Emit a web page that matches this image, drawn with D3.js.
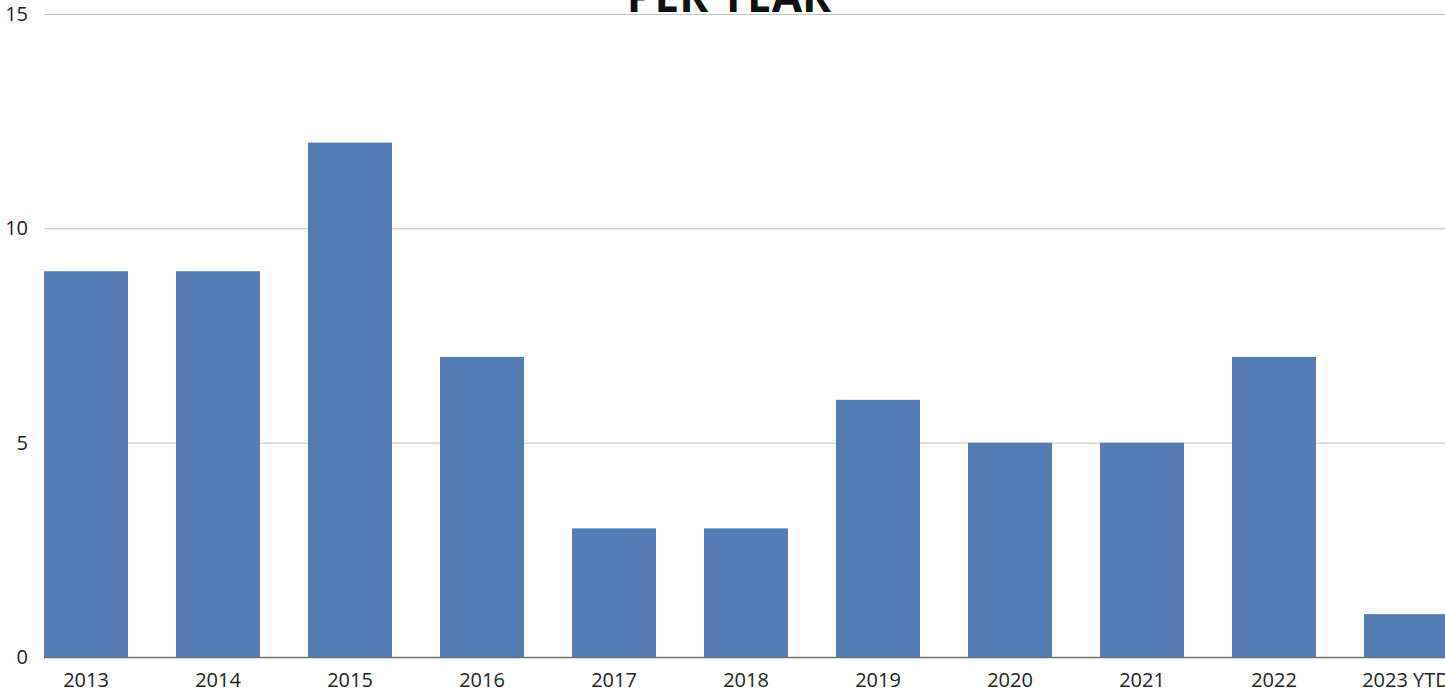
<!DOCTYPE html>
<html>
<head>
<meta charset="UTF-8">
<title>Per year</title>
<script src="https://d3js.org/d3.v7.min.js"></script>
<style>
  body { margin: 0; background: #fff; }
  svg { display: block; }
</style>
</head>
<body>
<svg id="chart" width="1445" height="694"></svg>
<script>
const years = ["2013", "2014", "2015", "2016", "2017", "2018", "2019", "2020", "2021", "2022", "2023 YTD"];
const counts = [9, 9, 12, 7, 3, 3, 6, 5, 5, 7, 1];
const yTicks = [0, 5, 10, 15];

const width = 1445, height = 694;
const svg = d3.select("#chart");

// band layout: 132px per category, 84px bars
const x = d3.scaleBand()
    .domain(years)
    .range([20, 20 + 132 * years.length])
    .paddingInner(48 / 132)
    .paddingOuter(24 / 132);

const y = d3.scaleLinear().domain([0, 15]).range([657, 14]);

// gridlines
svg.append("g")
    .selectAll("line")
    .data(yTicks.filter(d => d > 0))
    .enter().append("line")
    .attr("x1", 44).attr("x2", width)
    .attr("y1", d => y(d) + 0.5).attr("y2", d => y(d) + 0.5)
    .attr("stroke", "#bfbfbf")
    .attr("stroke-width", 1);

// bars
svg.append("g")
    .selectAll("rect")
    .data(years)
    .enter().append("rect")
    .attr("x", d => x(d))
    .attr("width", x.bandwidth())
    .attr("y", (d, i) => y(counts[i]))
    .attr("height", (d, i) => y(0) - y(counts[i]))
    .attr("fill", "#537db4");

// baseline
svg.append("line")
    .attr("x1", 44).attr("x2", width)
    .attr("y1", y(0) + 0.5).attr("y2", y(0) + 0.5)
    .attr("stroke", "#6e6e6e")
    .attr("stroke-width", 1.5);

// y labels
svg.append("g")
    .selectAll("text")
    .data(yTicks)
    .enter().append("text")
    .attr("x", 28)
    .attr("y", d => y(d))
    .attr("dy", "0.35em")
    .attr("text-anchor", "end")
    .attr("font-family", "Open Sans, sans-serif")
    .attr("font-size", 20)
    .attr("fill", "#222")
    .text(d => d);

// x labels
svg.append("g")
    .selectAll("text")
    .data(years)
    .enter().append("text")
    .attr("x", d => x(d) + x.bandwidth() / 2)
    .attr("y", 680)
    .attr("dy", "0.35em")
    .attr("text-anchor", "middle")
    .attr("font-family", "Open Sans, sans-serif")
    .attr("font-size", 20)
    .attr("fill", "#222")
    .text(d => d);

// title (cut off at the top, as in the original)
svg.append("text")
    .attr("x", 729)
    .attr("y", 12)
    .attr("text-anchor", "middle")
    .attr("font-family", "Open Sans, sans-serif")
    .attr("font-weight", "bold")
    .attr("font-size", 44)
    .attr("fill", "#111")
    .text("PER YEAR");
</script>
</body>
</html>
